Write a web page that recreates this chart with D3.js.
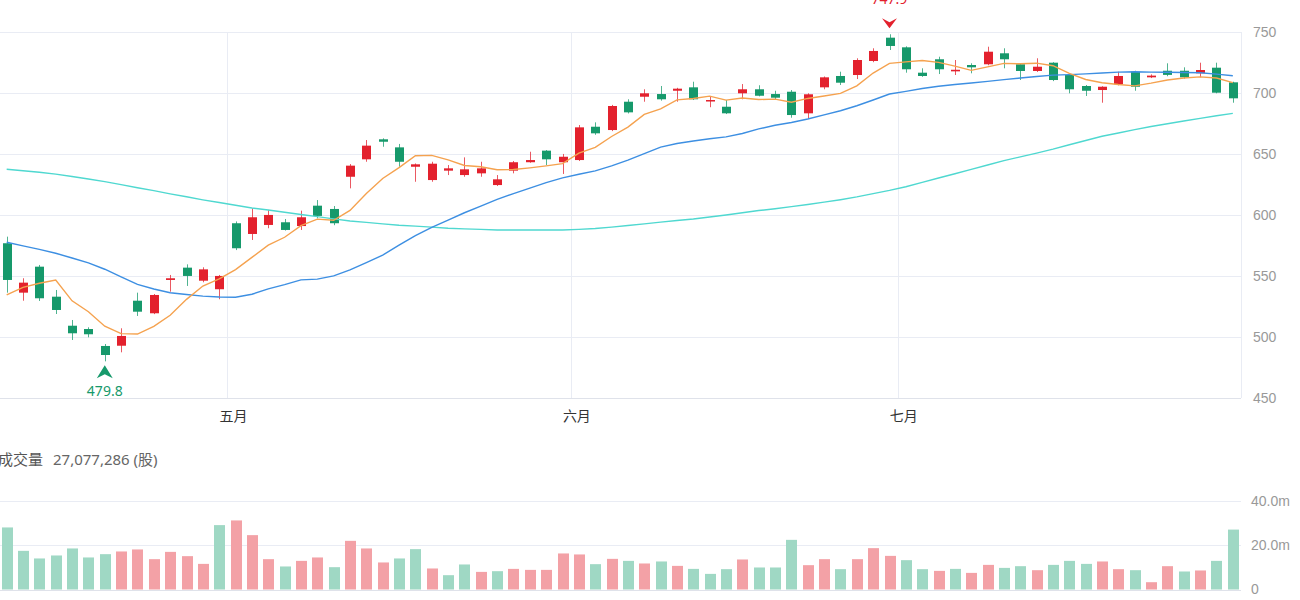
<!DOCTYPE html>
<html>
<head>
<meta charset="utf-8">
<script src="https://cdn.jsdelivr.net/npm/d3@7"></script>
<style>
	body { margin: 0; background: #fff; }
	svg { display: block; font-family: "Noto Sans", "Noto Sans CJK SC", sans-serif; }
</style>
</head>
<body>
<svg id="chart" width="1300" height="600"></svg>
<script>
// daily candles
const opens = [576.6, 536.1, 557.4, 532.8, 509.0, 506.3, 492.4, 492.6, 529.5, 519.2,
	546.5, 556.6, 545.9, 538.9, 593.0, 584.2, 591.6, 593.8, 590.7, 607.4,
	604.7, 631.1, 645.4, 661.8, 655.2, 639.3, 628.4, 636.1, 632.5, 633.9,
	624.3, 636.1, 643.0, 652.5, 643.0, 644.8, 672.1, 669.4, 692.6, 696.7,
	698.9, 701.6, 704.4, 693.4, 688.5, 699.5, 702.8, 698.9, 700.8, 683.1,
	704.4, 713.7, 714.5, 726.0, 745.1, 737.2, 716.4, 727.4, 717.5, 722.7,
	723.3, 732.3, 723.3, 717.8, 724.6, 714.5, 705.5, 702.2, 706.9, 717.2,
	712.6, 718.0, 718.0, 715.9, 720.5, 708.5]
const highs = [582.0, 547.9, 558.8, 538.3, 513.7, 507.7, 494.0, 506.9, 536.1, 535.0,
	550.6, 559.3, 556.9, 550.6, 594.5, 605.2, 603.9, 596.5, 603.3, 612.0,
	607.1, 641.5, 661.2, 662.6, 658.0, 642.0, 643.4, 640.7, 647.0, 643.4,
	632.5, 644.0, 651.6, 653.0, 649.8, 673.5, 675.7, 690.0, 694.6, 702.8,
	705.5, 704.0, 709.0, 697.3, 694.0, 707.1, 706.1, 701.6, 702.2, 699.5,
	713.3, 717.2, 728.2, 736.4, 747.9, 738.0, 720.0, 729.5, 726.8, 724.1,
	737.7, 736.4, 724.1, 728.2, 725.0, 715.0, 706.3, 705.3, 717.2, 718.0,
	715.0, 724.1, 720.8, 724.6, 724.6, 709.0]
const lows = [536.1, 529.5, 529.3, 518.6, 497.3, 499.5, 479.8, 487.2, 517.0, 518.5,
	536.9, 541.6, 544.6, 530.7, 571.0, 579.3, 588.9, 587.0, 587.5, 597.0,
	591.4, 621.6, 643.4, 655.7, 639.3, 627.0, 627.0, 632.5, 631.1, 631.1,
	623.5, 633.9, 642.6, 640.7, 633.4, 644.0, 665.5, 668.5, 683.0, 692.6,
	693.5, 692.6, 694.0, 688.1, 682.5, 694.6, 697.0, 694.6, 679.5, 679.0,
	702.8, 706.3, 711.2, 725.0, 735.0, 716.4, 713.0, 715.3, 714.5, 715.9,
	722.5, 720.0, 710.4, 717.0, 709.5, 699.5, 697.3, 691.8, 706.0, 701.6,
	712.0, 713.5, 711.5, 712.6, 699.5, 691.8]
const closes = [546.5, 544.3, 531.5, 521.9, 502.8, 502.0, 485.0, 500.6, 520.5, 534.2,
	547.9, 549.8, 555.2, 549.8, 572.5, 597.9, 599.8, 587.5, 597.9, 599.0,
	593.0, 640.2, 656.6, 659.8, 643.4, 641.3, 641.8, 638.0, 637.2, 638.0,
	629.0, 643.0, 644.8, 645.4, 647.5, 671.6, 666.7, 689.1, 683.9, 699.5,
	694.6, 703.3, 694.6, 694.0, 683.1, 702.8, 697.5, 695.9, 681.7, 698.7,
	712.6, 708.2, 726.8, 734.2, 738.3, 719.2, 713.7, 719.2, 718.8, 720.8,
	733.6, 727.4, 717.8, 721.3, 710.4, 702.8, 701.6, 704.9, 713.7, 704.9,
	714.0, 714.6, 712.6, 718.6, 700.0, 695.4]
const closeBefore = 551.0 // close of the day before the first candle

// volume, millions of shares
const volumes = [28.05, 17.47, 14.03, 15.38, 18.55, 14.48, 15.97, 17.19, 18.10, 13.71,
	17.01, 15.07, 11.58, 29.10, 31.22, 24.57, 13.71, 10.41, 12.94, 14.48,
	10.09, 21.99, 18.55, 12.22, 14.03, 18.24, 9.50, 6.47, 11.31, 7.96,
	8.28, 9.32, 8.87, 8.87, 16.29, 15.84, 11.45, 13.85, 12.94, 11.76,
	12.67, 10.68, 9.32, 7.06, 9.19, 13.57, 9.95, 9.95, 22.44, 11.00,
	13.71, 9.19, 13.71, 18.69, 15.20, 13.26, 9.19, 8.42, 9.32, 7.51,
	11.13, 9.77, 10.54, 8.73, 11.13, 12.94, 11.58, 12.67, 9.19, 8.73,
	3.30, 10.54, 8.14, 8.60, 12.94, 27.077286]

// moving averages as drawn
const ma5 = [534.2, 540.5, 543.8, 546.5, 529.4, 520.5, 508.6, 502.5, 502.2, 508.5,
	517.6, 530.6, 541.5, 547.4, 555.0, 565.0, 575.0, 581.5, 591.1, 596.4,
	595.4, 603.5, 617.3, 629.7, 638.6, 648.3, 648.6, 644.9, 640.3, 639.3,
	636.8, 637.0, 638.4, 640.0, 641.9, 650.5, 655.2, 664.1, 671.8, 682.2,
	686.8, 694.1, 695.2, 697.2, 693.9, 695.6, 694.4, 694.7, 692.2, 695.3,
	697.3, 699.4, 705.6, 716.1, 724.0, 725.3, 726.4, 724.9, 721.8, 718.3,
	721.2, 724.0, 723.7, 724.2, 722.1, 715.9, 710.8, 708.2, 706.7, 705.6,
	707.8, 710.4, 712.0, 713.0, 712.0, 708.2]
const ma20 = [577.4, 574.5, 571.6, 568.4, 564.5, 560.5, 555.3, 549.0, 542.9, 539.1,
	536.0, 534.6, 533.3, 532.5, 532.3, 534.8, 539.2, 542.7, 546.6, 547.2,
	549.8, 554.7, 560.8, 566.9, 575.1, 582.9, 589.7, 595.6, 601.6, 607.1,
	612.5, 617.3, 621.8, 626.3, 630.2, 633.2, 635.9, 640.0, 644.7, 650.0,
	655.4, 658.4, 660.4, 662.2, 663.8, 666.6, 670.3, 673.3, 675.6, 678.4,
	681.8, 685.2, 689.3, 694.0, 698.9, 701.1, 703.4, 705.3, 706.7, 708.0,
	709.3, 710.7, 712.0, 713.3, 714.4, 714.8, 715.4, 716.2, 716.9, 717.2,
	716.9, 716.8, 716.6, 716.4, 715.2, 713.9]
const ma60 = [637.2, 636.0, 634.8, 633.3, 631.3, 629.3, 627.1, 624.7, 622.1, 619.7,
	617.1, 614.7, 612.2, 610.0, 607.7, 605.5, 603.8, 602.0, 600.2, 598.4,
	596.6, 594.8, 593.7, 592.5, 591.4, 590.6, 589.8, 588.9, 588.4, 588.0,
	587.5, 587.5, 587.5, 587.5, 587.5, 588.0, 588.7, 589.8, 591.1, 592.5,
	593.9, 595.2, 596.5, 598.1, 599.8, 601.6, 603.4, 604.9, 606.6, 608.4,
	610.3, 612.3, 614.6, 617.3, 619.9, 622.9, 626.5, 630.1, 633.6, 637.2,
	640.7, 644.3, 647.4, 650.5, 653.7, 657.3, 660.8, 664.3, 667.0, 669.7,
	672.3, 674.5, 676.8, 679.0, 681.1, 683.1]

// first trading day of each month
const monthStarts = [14, 35, 55]
const monthNames = ['五月', '六月', '七月']

const priceTicks = [450, 500, 550, 600, 650, 700, 750]
const volumeTicks = [0, 20, 40]

const UP = '#e3212d'
const DOWN = '#16996b'
const UP_VOL = '#f3a1a6'
const DOWN_VOL = '#9fd8c4'
const GRID = '#e9ecf4'

const svg = d3.select('#chart')
const n = closes.length
const plotRight = 1241

const x = d3.scaleBand()
	.domain(d3.range(n))
	.range([-1.5, plotRight])
	.paddingInner(0.45)
	.paddingOuter(0.225)
const step = x.step()
const cx = (i) => x(i) + x.bandwidth() / 2

const y = d3.scaleLinear().domain([450, 750]).range([397.7, 31.7])
const yv = d3.scaleLinear().domain([0, 40]).range([589.5, 501])

// grid
const grid = svg.append('g').attr('shape-rendering', 'crispEdges')
grid.selectAll('.hgrid')
	.data(priceTicks)
	.join('line')
		.attr('x1', 0).attr('x2', plotRight)
		.attr('y1', (d) => Math.round(y(d)) + 0.5).attr('y2', (d) => Math.round(y(d)) + 0.5)
		.attr('stroke', (d) => d === 450 ? '#dfe2ea' : GRID)
grid.selectAll('.vgrid')
	.data(monthStarts)
	.join('line')
		.attr('x1', (d) => Math.round(cx(d) - step / 2) + 0.5)
		.attr('x2', (d) => Math.round(cx(d) - step / 2) + 0.5)
		.attr('y1', y(750)).attr('y2', y(450))
		.attr('stroke', GRID)
grid.append('line')
	.attr('x1', plotRight + 0.5).attr('x2', plotRight + 0.5)
	.attr('y1', y(750)).attr('y2', y(450))
	.attr('stroke', GRID)
grid.selectAll('.vgridv')
	.data(volumeTicks)
	.join('line')
		.attr('x1', 0).attr('x2', plotRight)
		.attr('y1', (d) => Math.round(yv(d)) + 0.5).attr('y2', (d) => Math.round(yv(d)) + 0.5)
		.attr('stroke', (d) => d === 0 ? '#dfe2ea' : GRID)

// price axis labels
const axisPrice = d3.axisRight(y).tickValues(priceTicks).tickSize(0).tickPadding(0)
svg.append('g')
	.attr('transform', `translate(${plotRight + 12},0)`)
	.call(axisPrice)
	.call((g) => g.select('.domain').remove())
	.call((g) => g.selectAll('text').attr('fill', '#999').attr('font-size', 14).attr('font-family', null))

const axisVol = d3.axisRight(yv)
	.tickValues(volumeTicks)
	.tickSize(0).tickPadding(0)
	.tickFormat((d) => d === 0 ? '0' : d3.format('.1f')(d) + 'm')
svg.append('g')
	.attr('transform', `translate(${plotRight + 10},0)`)
	.call(axisVol)
	.call((g) => g.select('.domain').remove())
	.call((g) => g.selectAll('text').attr('fill', '#999').attr('font-size', 14).attr('font-family', null))

// month labels
svg.append('g')
	.selectAll('text')
	.data(monthStarts)
	.join('text')
		.attr('x', (d) => cx(d) - 2)
		.attr('y', 421)
		.attr('text-anchor', 'middle')
		.attr('font-size', 14)
		.attr('fill', '#333')
		.text((d, i) => monthNames[i])

// moving average lines
const line = d3.line().x((d, i) => cx(i)).y((d) => y(d))
const maSeries = [
	{ values: ma60, color: '#4fd8d0' },
	{ values: ma20, color: '#3d8fe2' },
	{ values: ma5, color: '#f5a24f' },
]

// candles
const candles = d3.range(n).map((i) => ({
	i, open: opens[i], high: highs[i], low: lows[i], close: closes[i],
}))
const candleColor = (d) => d.close >= d.open ? UP : DOWN

const gCandles = svg.append('g')
gCandles.selectAll('.wick')
	.data(candles)
	.join('line')
		.attr('class', 'wick')
		.attr('x1', (d) => Math.round(cx(d.i)) + 0.5)
		.attr('x2', (d) => Math.round(cx(d.i)) + 0.5)
		.attr('y1', (d) => y(d.high))
		.attr('y2', (d) => y(d.low))
		.attr('stroke', candleColor)
		.attr('stroke-opacity', 0.75)
gCandles.selectAll('.body')
	.data(candles)
	.join('rect')
		.attr('class', 'body')
		.attr('x', (d) => Math.round(cx(d.i)) + 0.5 - 4.5)
		.attr('width', 9)
		.attr('y', (d) => y(Math.max(d.open, d.close)))
		.attr('height', (d) => Math.max(1.5, Math.abs(y(d.open) - y(d.close))))
		.attr('fill', candleColor)

svg.append('g')
	.selectAll('path')
	.data(maSeries)
	.join('path')
		.attr('d', (d) => line(d.values))
		.attr('fill', 'none')
		.attr('stroke', (d) => d.color)
		.attr('stroke-width', 1.4)

// high / low markers
const hiIdx = d3.maxIndex(highs)
const loIdx = d3.minIndex(lows)
const hx = cx(hiIdx)
const hy = y(highs[hiIdx]) - 6
svg.append('path')
	.attr('d', `M${hx - 7.5},${hy - 10}L${hx},${hy - 6}L${hx + 7.5},${hy - 10}L${hx},${hy}Z`)
	.attr('fill', UP)
svg.append('text')
	.attr('x', hx).attr('y', hy - 24)
	.attr('text-anchor', 'middle').attr('font-size', 14).attr('fill', UP)
	.text(d3.format('.1f')(highs[hiIdx]))

const lx = cx(loIdx)
const ly = y(lows[loIdx]) + 4
svg.append('path')
	.attr('d', `M${lx - 8},${ly + 13}L${lx},${ly + 9}L${lx + 8},${ly + 13}L${lx},${ly}Z`)
	.attr('fill', DOWN)
svg.append('text')
	.attr('x', lx).attr('y', ly + 31)
	.attr('text-anchor', 'middle').attr('font-size', 14).attr('fill', DOWN)
	.text(d3.format('.1f')(lows[loIdx]))

// volume bars, coloured against previous close
const volUp = (i) => closes[i] >= (i === 0 ? closeBefore : closes[i - 1])
svg.append('g')
	.selectAll('rect')
	.data(volumes)
	.join('rect')
		.attr('x', (d, i) => Math.round(cx(i)) + 0.5 - 5.5)
		.attr('width', 11)
		.attr('y', (d) => yv(d))
		.attr('height', (d) => yv(0) - yv(d))
		.attr('fill', (d, i) => volUp(i) ? UP_VOL : DOWN_VOL)

// volume title
svg.append('text')
	.attr('x', 43).attr('y', 465)
	.attr('text-anchor', 'end').attr('font-size', 15).attr('fill', '#555')
	.text('成交量')
svg.append('text')
	.attr('x', 53).attr('y', 465)
	.attr('font-size', 15).attr('fill', '#666')
	.text(d3.format(',')(Math.round(volumes[n - 1] * 1e6)) + ' (股)')
</script>
</body>
</html>
